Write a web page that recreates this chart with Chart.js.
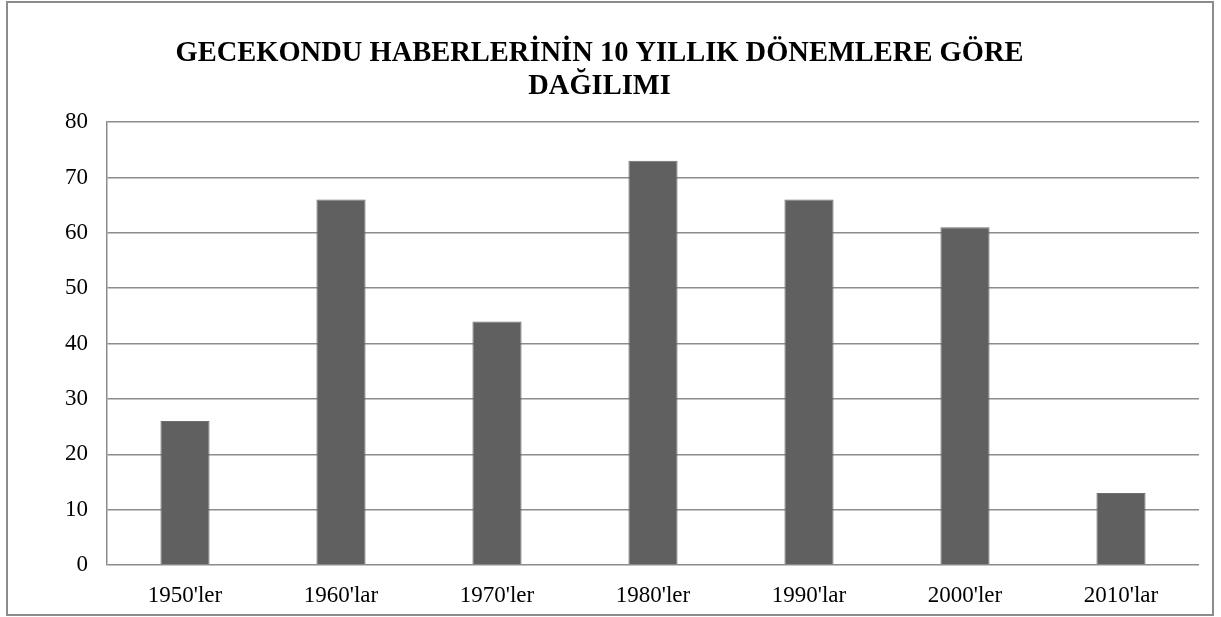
<!DOCTYPE html>
<html>
<head>
<meta charset="utf-8">
<script src="https://cdn.jsdelivr.net/npm/chart.js@4"></script>
<style>
  html, body { margin: 0; padding: 0; background: #fff; }
  #wrap { position: relative; width: 1221px; height: 617px; }
</style>
</head>
<body>
<div id="wrap"><canvas id="chart"></canvas></div>
<script>
// chart data
const titleLines = ['GECEKONDU HABERLERİNİN 10 YILLIK DÖNEMLERE GÖRE', 'DAĞILIMI'];
const decades = ["1950'ler", "1960'lar", "1970'ler", "1980'ler", "1990'lar", "2000'ler", "2010'lar"];
const newsCounts = [26, 66, 44, 73, 66, 61, 13];
const yTicks = [0, 10, 20, 30, 40, 50, 60, 70, 80];

const serif = "'Liberation Serif', 'Times New Roman', serif";

// thin gray frame round the whole chart
const frame = {
    id: 'frame',
    afterDraw(chart) {
        const ctx = chart.ctx;
        ctx.save();
        ctx.strokeStyle = '#8c8c8c';
        ctx.lineWidth = 2;
        ctx.strokeRect(7, 2, 1206, 613);
        ctx.restore();
    }
};

const ctx = document.getElementById('chart').getContext('2d');
new Chart(ctx, {
    type: 'bar',
    data: {
        labels: decades,
        datasets: [{
            data: newsCounts,
            backgroundColor: '#606060',
            borderColor: '#6e6e6e',
            borderWidth: 1,
            barPercentage: 0.315,
            categoryPercentage: 1
        }]
    },
    options: {
        responsive: true,
        maintainAspectRatio: false,
        animation: false,
        layout: { padding: { top: 0, right: 22, bottom: 0, left: 0 } },
        plugins: {
            legend: { display: false },
            tooltip: { enabled: false },
            title: {
                display: true,
                text: titleLines,
                color: '#000',
                font: { family: serif, size: 28.5, weight: 'bold', lineHeight: 1.16 },
                padding: { top: 37, bottom: 19 }
            }
        },
        scales: {
            x: {
                grid: { display: false, drawTicks: false },
                border: { display: false },
                ticks: {
                    color: '#000',
                    font: { family: serif, size: 23 },
                    padding: 17,
                    maxRotation: 0
                },
                afterFit(scale) { scale.height = 52; }
            },
            y: {
                min: 0,
                max: 80,
                afterBuildTicks(scale) {
                    scale.ticks = yTicks.map(v => ({ value: v }));
                },
                grid: { color: '#8c8c8c', lineWidth: 1.5, drawTicks: false },
                border: { display: true, color: '#8c8c8c', width: 1.5 },
                ticks: {
                    color: '#000',
                    font: { family: serif, size: 23 },
                    padding: 19
                },
                afterFit(scale) { scale.width = 107; }
            }
        }
    },
    plugins: [frame]
});
</script>
</body>
</html>
